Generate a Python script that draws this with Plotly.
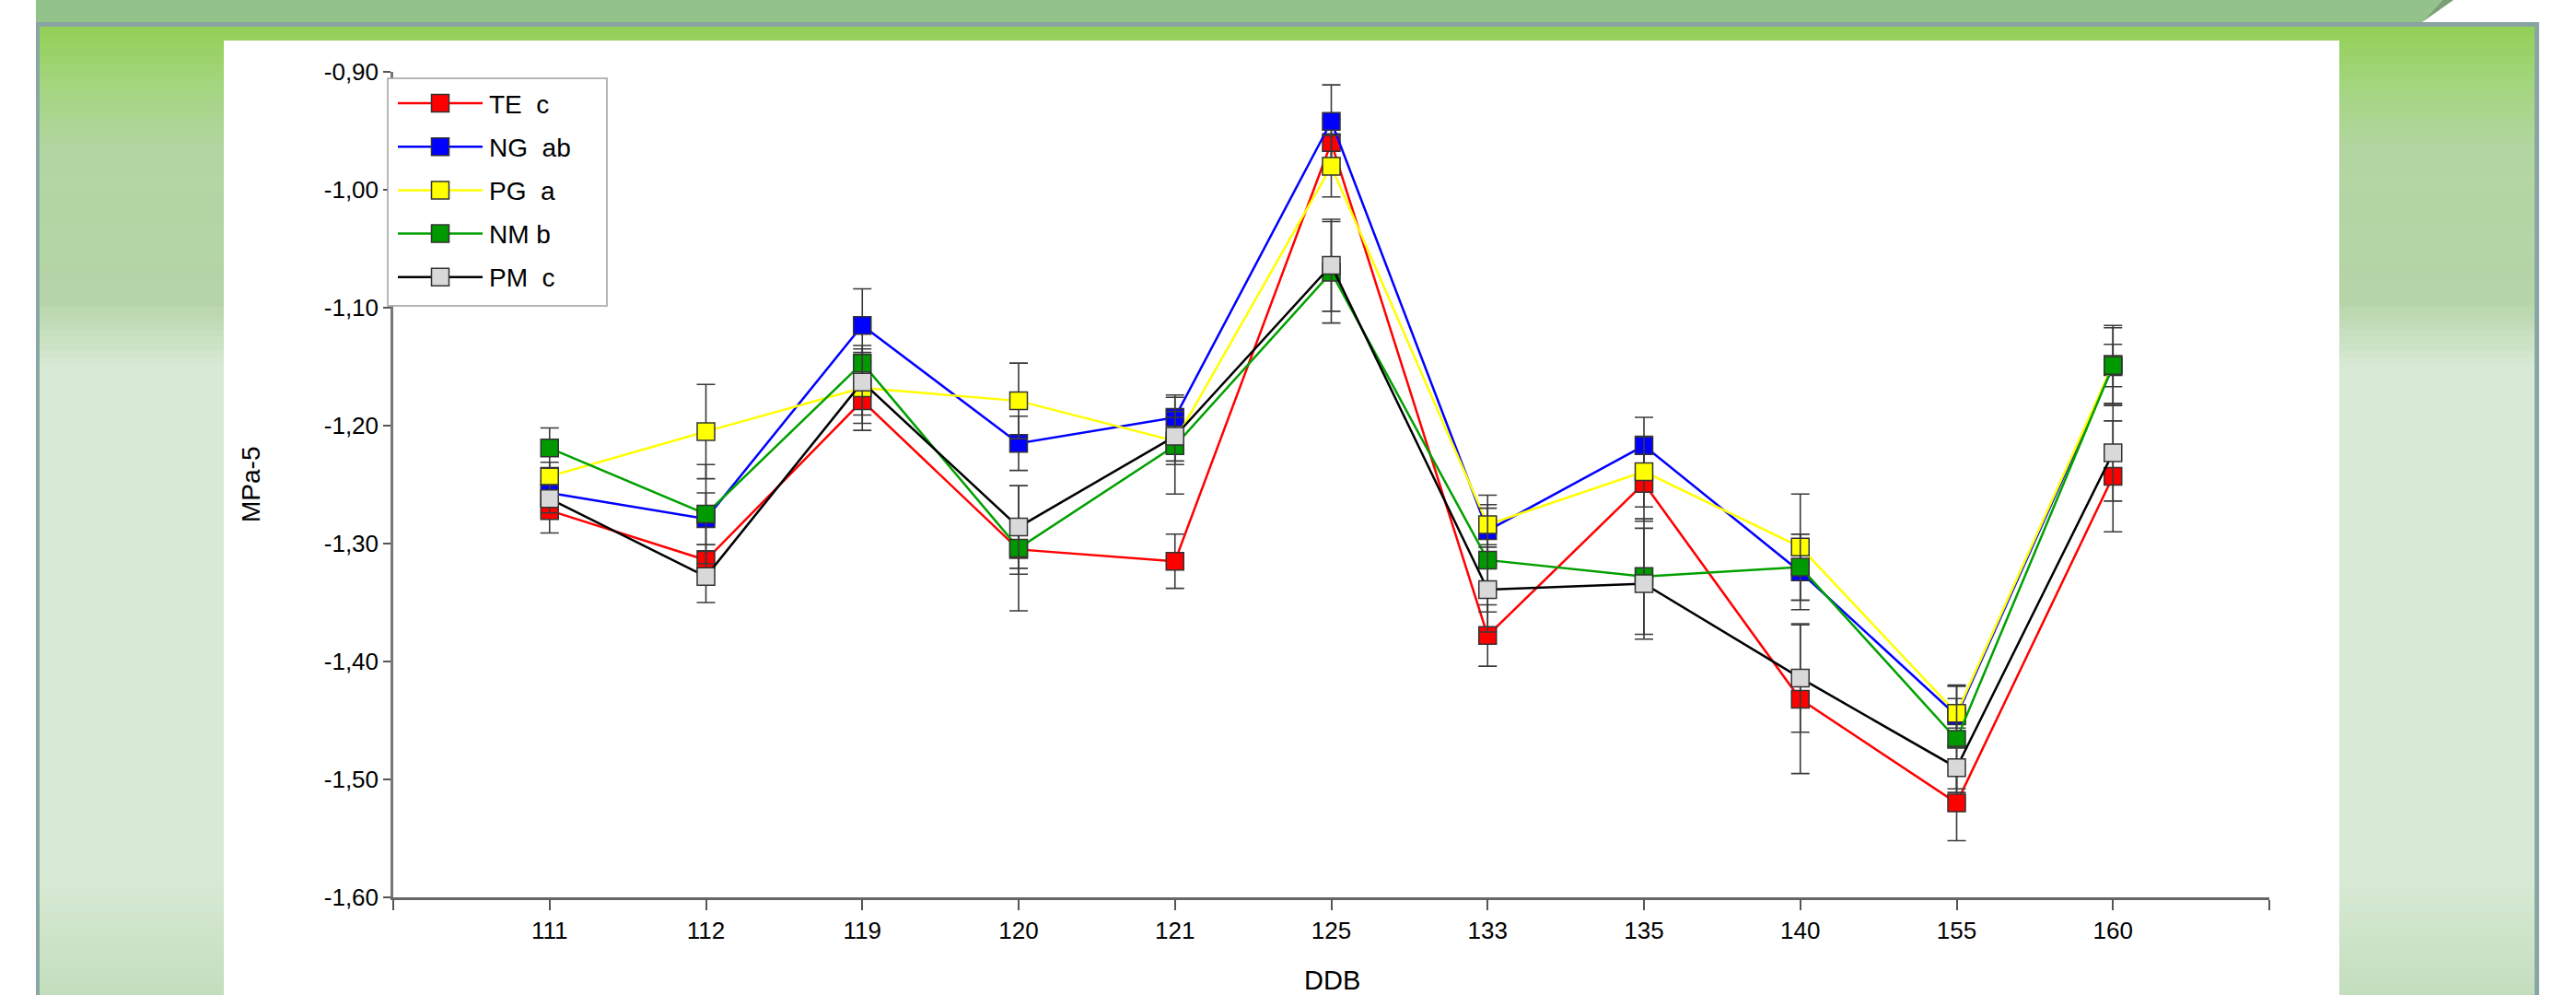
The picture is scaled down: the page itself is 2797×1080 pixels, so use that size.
import plotly.graph_objects as go

# ---------------- data ----------------
categories = ["111", "112", "119", "120", "121", "125", "133", "135", "140", "155", "160"]
series_names = ["TE  c", "NG  ab", "PG  a", "NM b", "PM  c"]

te = [-1.272, -1.314, -1.179, -1.305, -1.315, -0.960, -1.378, -1.249, -1.432, -1.520, -1.243]
ng = [-1.257, -1.279, -1.115, -1.215, -1.193, -0.942, -1.289, -1.217, -1.324, -1.446, -1.150]
pg = [-1.243, -1.205, -1.168, -1.179, -1.213, -0.980, -1.284, -1.239, -1.303, -1.444, -1.148]
nm = [-1.219, -1.275, -1.147, -1.304, -1.217, -1.070, -1.314, -1.328, -1.320, -1.466, -1.149]
pm = [-1.262, -1.328, -1.163, -1.286, -1.209, -1.064, -1.339, -1.334, -1.414, -1.490, -1.223]

te_err = [0.019, 0.013, 0.025, 0.021, 0.023, 0.020, 0.026, 0.032, 0.063, 0.032, 0.047]
ng_err = [0.010, 0.022, 0.031, 0.023, 0.019, 0.031, 0.030, 0.024, 0.032, 0.026, 0.033]
pg_err = [0.012, 0.040, 0.030, 0.032, 0.020, 0.026, 0.017, 0.030, 0.045, 0.0125, 0.033]
nm_err = [0.017, 0.042, 0.015, 0.053, 0.041, 0.043, 0.044, 0.049, 0.028, 0.045, 0.018]
pm_err = [0.012, 0.022, 0.028, 0.035, 0.021, 0.039, 0.036, 0.047, 0.046, 0.018, 0.041]

y_tick_vals = [-1.60, -1.50, -1.40, -1.30, -1.20, -1.10, -1.00, -0.90]
y_tick_text = ["-1,60", "-1,50", "-1,40", "-1,30", "-1,20", "-1,10", "-1,00", "-0,90"]

x_title = "DDB"
y_title = "MPa-5"

# ---------------- styles ----------------
values = [te, ng, pg, nm, pm]
errors = [te_err, ng_err, pg_err, nm_err, pm_err]
line_colors = ["#ff0000", "#0000ff", "#ffff00", "#00a000", "#000000"]
marker_colors = ["#ff0000", "#0000ff", "#ffff00", "#009900", "#d9d9d9"]

W_FIG, H_FIG = 2797, 1080
L, R, T, B = 427, 2464, 78, 974
PW, PH = R - L, B - T
FONT = "Arial, Liberation Sans, sans-serif"


def px(X):
    return (X - L) / PW


def py(Y):
    return (B - Y) / PH


xpos = list(range(len(categories)))

fig = go.Figure()
for name, vals, errs, lc, mc in zip(series_names, values, errors, line_colors, marker_colors):
    fig.add_trace(go.Scatter(
        x=xpos, y=vals, name=name, mode="lines+markers",
        line=dict(color=lc, width=2.5),
        marker=dict(symbol="square", size=19, color=mc, line=dict(color="#333333", width=1.5)),
        error_y=dict(type="data", array=errs, visible=True, color="#3a3a3a", thickness=1.6, width=10),
        cliponaxis=False,
    ))

shapes = []


def rect(x0, y0, x1, y1, fill, line_color=None, line_width=0, layer="below"):
    shapes.append(dict(type="rect", xref="paper", yref="paper",
                       x0=px(x0), x1=px(x1), y0=py(y1), y1=py(y0),
                       fillcolor=fill, layer=layer,
                       line=dict(color=line_color or fill, width=line_width)))


def poly(points, fill, layer="below"):
    path = "M " + " L ".join(f"{px(a):.5f},{py(b):.5f}" for a, b in points) + " Z"
    shapes.append(dict(type="path", xref="paper", yref="paper", path=path,
                       fillcolor=fill, line=dict(width=0), layer=layer))


# slide frame with vertical gradient
stops = [(29, (147, 208, 86)), (90, (163, 213, 125)), (160, (178, 214, 161)),
         (325, (181, 212, 168)), (400, (216, 234, 213)), (950, (216, 234, 213)),
         (1080, (195, 222, 189))]


def color_at(Y):
    for (y0, c0), (y1, c1) in zip(stops[:-1], stops[1:]):
        if y0 <= Y <= y1:
            t = (Y - y0) / (y1 - y0)
            return "rgb(%d,%d,%d)" % tuple(round(a + (b - a) * t) for a, b in zip(c0, c1))
    return "rgb(%d,%d,%d)" % stops[-1][1]


step = 8
Yc = 29
while Yc < 1080:
    rect(39, Yc, 2757, min(Yc + step + 1, 1080), color_at(Yc + step / 2))
    Yc += step

# frame borders
rect(39, 24, 2757, 29, "#88a4a2")
rect(39, 24, 43, 1080, "#8aa6a4")
rect(2752, 24, 2757, 1080, "#8aa6a4")

# top banner
poly([(39, 0), (2652, 0), (2630, 24), (39, 24)], "#93c38b")
poly([(2630, 24), (2652, 0), (2664, 0)], "#7b9f74")

# white panel
rect(243, 44, 2540, 1080, "#ffffff")

# legend (manual, like the original)
rect(421, 85, 659, 332, "#ffffff", "#a0a0a0", 1.5, layer="above")
annotations = []
for i, (name, lc, mc) in enumerate(zip(series_names, line_colors, marker_colors)):
    yy = 112 + 47.2 * i
    shapes.append(dict(type="line", xref="paper", yref="paper", layer="above",
                       x0=px(432), x1=px(524), y0=py(yy), y1=py(yy),
                       line=dict(color=lc, width=2.5)))
    shapes.append(dict(type="rect", xref="paper", yref="paper", layer="above",
                       x0=px(478 - 9.5), x1=px(478 + 9.5), y0=py(yy + 9.5), y1=py(yy - 9.5),
                       fillcolor=mc, line=dict(color="#333333", width=1.5)))
    annotations.append(dict(xref="paper", yref="paper", x=px(529), y=py(yy + 1),
                            xanchor="left", yanchor="middle", showarrow=False,
                            text=name.replace("  ", " \u00a0"),
                            font=dict(family=FONT, size=28, color="#000000")))

# axis titles
annotations.append(dict(xref="paper", yref="paper", x=px(272), y=py(526),
                        xanchor="center", yanchor="middle", showarrow=False, textangle=-90,
                        text=y_title, font=dict(family=FONT, size=28, color="#000000")))
annotations.append(dict(xref="paper", yref="paper", x=px(1446), y=py(1064),
                        xanchor="center", yanchor="middle", showarrow=False,
                        text=x_title, font=dict(family=FONT, size=29, color="#000000")))

fig.update_layout(
    width=W_FIG, height=H_FIG, autosize=False,
    margin=dict(l=L, r=W_FIG - R, t=T, b=H_FIG - B, pad=0),
    paper_bgcolor="#ffffff", plot_bgcolor="rgba(0,0,0,0)",
    showlegend=False,
    shapes=shapes, annotations=annotations,
    font=dict(family=FONT, size=26, color="#000000"),
)
fig.update_xaxes(
    range=[-1, len(categories)], tickmode="array",
    tickvals=[-1] + xpos + [len(categories)],
    ticktext=[""] + categories + [""],
    showline=True, linecolor="#666666", linewidth=3, mirror=False,
    ticks="outside", ticklen=11, tickwidth=1.5, tickcolor="#555555",
    showgrid=False, zeroline=False, tickfont=dict(family=FONT, size=26, color="#000000"),
)
fig.update_yaxes(
    range=[-1.60, -0.90], tickmode="array", tickvals=y_tick_vals, ticktext=y_tick_text,
    showline=True, linecolor="#777777", linewidth=2.5, mirror=False,
    ticks="outside", ticklen=8, tickwidth=1.5, tickcolor="#555555",
    showgrid=False, zeroline=False, tickfont=dict(family=FONT, size=26, color="#000000"),
)

fig.write_html(
    "out.html",
    config={"displayModeBar": False},
    post_script="document.body.style.margin='0';document.body.style.overflow='hidden';",
)
